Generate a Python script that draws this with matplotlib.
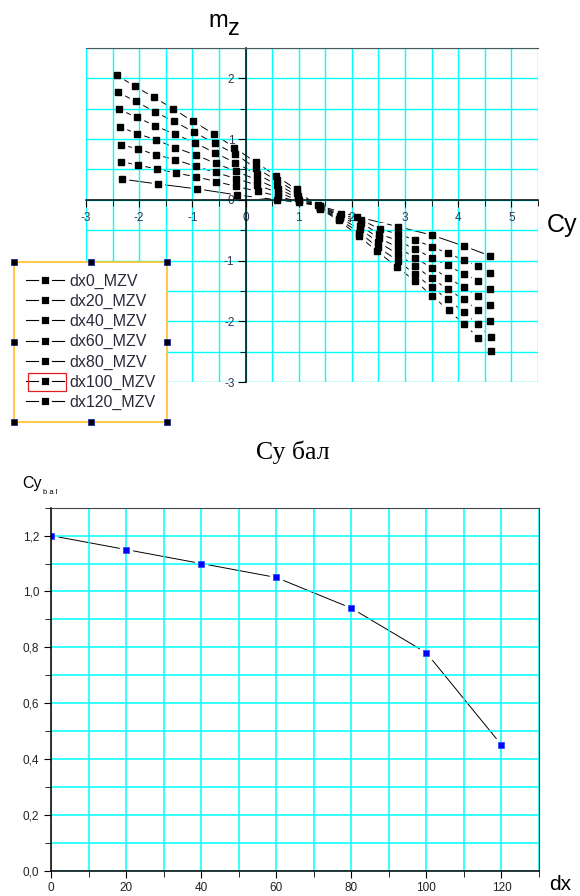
import matplotlib
matplotlib.use('Agg')
import matplotlib.pyplot as plt
from matplotlib.ticker import MultipleLocator, FuncFormatter
from matplotlib.lines import Line2D
from matplotlib.patches import Rectangle

plt.rcParams['font.family'] = ['Liberation Sans', 'DejaVu Sans']
plt.rcParams['axes.unicode_minus'] = False

# --- top chart: mz(Cy) for different CG shifts ---
labels = ['dx0_MZV', 'dx20_MZV', 'dx40_MZV', 'dx60_MZV', 'dx80_MZV', 'dx100_MZV', 'dx120_MZV']

cy_dx0 = [-2.42, -2.08, -1.73, -1.36, -0.99, -0.60, -0.21, 0.19, 0.58, 0.96, 1.40, 1.76, 2.13, 2.48, 2.85, 3.18, 3.51, 3.82, 4.11, 4.38, 4.61]
mz_dx0 = [2.05, 1.87, 1.69, 1.50, 1.29, 1.09, 0.86, 0.62, 0.39, 0.17, -0.15, -0.34, -0.60, -0.85, -1.11, -1.33, -1.58, -1.82, -2.05, -2.27, -2.49]

cy_dx20 = [-2.40, -2.06, -1.71, -1.34, -0.96, -0.58, -0.19, 0.20, 0.59, 0.97, 1.40, 1.76, 2.14, 2.49, 2.86, 3.18, 3.50, 3.81, 4.10, 4.37, 4.61]
mz_dx20 = [1.77, 1.62, 1.45, 1.29, 1.11, 0.93, 0.75, 0.52, 0.32, 0.12, -0.14, -0.32, -0.54, -0.78, -1.00, -1.22, -1.44, -1.64, -1.85, -2.05, -2.26]

cy_dx40 = [-2.38, -2.05, -1.70, -1.33, -0.95, -0.57, -0.19, 0.21, 0.60, 0.98, 1.40, 1.77, 2.15, 2.50, 2.86, 3.18, 3.50, 3.80, 4.10, 4.37, 4.60]
mz_dx40 = [1.49, 1.36, 1.22, 1.08, 0.94, 0.77, 0.61, 0.42, 0.25, 0.07, -0.13, -0.30, -0.48, -0.70, -0.89, -1.09, -1.29, -1.47, -1.64, -1.82, -2.00]

cy_dx60 = [-2.36, -2.04, -1.69, -1.33, -0.94, -0.56, -0.18, 0.21, 0.61, 0.99, 1.40, 1.78, 2.16, 2.51, 2.86, 3.18, 3.50, 3.80, 4.10, 4.37, 4.60]
mz_dx60 = [1.20, 1.09, 0.99, 0.86, 0.74, 0.60, 0.47, 0.33, 0.18, 0.03, -0.12, -0.28, -0.43, -0.63, -0.78, -0.95, -1.12, -1.28, -1.44, -1.59, -1.74]

cy_dx80 = [-2.35, -2.03, -1.68, -1.32, -0.93, -0.56, -0.18, 0.22, 0.62, 1.00, 1.40, 1.78, 2.17, 2.51, 2.86, 3.18, 3.50, 3.80, 4.10, 4.37, 4.60]
mz_dx80 = [0.91, 0.84, 0.74, 0.66, 0.55, 0.45, 0.35, 0.24, 0.12, -0.01, -0.11, -0.26, -0.38, -0.56, -0.67, -0.81, -0.95, -1.08, -1.22, -1.33, -1.47]

cy_dx100 = [-2.34, -2.02, -1.67, -1.31, -0.93, -0.55, -0.17, 0.23, 0.62, 1.01, 1.40, 1.79, 2.18, 2.52, 2.86, 3.18, 3.50, 3.80, 4.10, 4.37, 4.59]
mz_dx100 = [0.63, 0.57, 0.51, 0.44, 0.38, 0.30, 0.22, 0.14, 0.06, -0.04, -0.10, -0.24, -0.33, -0.48, -0.56, -0.66, -0.77, -0.88, -0.99, -1.09, -1.20]

cy_dx120 = [-2.32, -1.64, -0.91, -0.16, 0.60, 1.36, 2.10, 2.86, 3.50, 4.10, 4.59]
mz_dx120 = [0.34, 0.26, 0.18, 0.08, 0.00, -0.09, -0.28, -0.44, -0.58, -0.76, -0.92]

# --- bottom chart: balancing Cy vs dx ---
dx = [0, 20, 40, 60, 80, 100, 120]
cy_bal = [1.20, 1.15, 1.10, 1.05, 0.94, 0.78, 0.45]

series = [(cy_dx0, mz_dx0), (cy_dx20, mz_dx20), (cy_dx40, mz_dx40), (cy_dx60, mz_dx60),
          (cy_dx80, mz_dx80), (cy_dx100, mz_dx100), (cy_dx120, mz_dx120)]

W, H = 580, 896
fig = plt.figure(figsize=(W / 100, H / 100), dpi=100)
tick_col = '#333355'
grid_col = '#00ffff'

ax1 = fig.add_axes([86 / W, 1 - 382 / H, (538 - 86) / W, (382 - 48) / H])
ax1.set_xlim(-3, 5.5)
ax1.set_ylim(-3, 2.5)
ax1.xaxis.set_major_locator(MultipleLocator(1))
ax1.xaxis.set_minor_locator(MultipleLocator(0.5))
ax1.yaxis.set_major_locator(MultipleLocator(1))
ax1.yaxis.set_minor_locator(MultipleLocator(0.5))
ax1.set_axisbelow('line')
ax1.grid(which='both', color=grid_col, lw=1.0)
ax1.spines['left'].set_position(('data', 0))
ax1.spines['bottom'].set_position(('data', 0))
ax1.spines['right'].set_visible(False)
ax1.spines['top'].set_color('#555555')
for s in ['left', 'bottom']:
    ax1.spines[s].set_linewidth(1.1)
ax1.tick_params(axis='x', which='major', direction='out', length=5, labelsize=8.5, labelcolor=tick_col, pad=4)
ax1.tick_params(axis='x', which='minor', direction='out', length=4)
ax1.tick_params(axis='y', which='major', direction='out', length=6, labelsize=8.5, labelcolor=tick_col, pad=2)
ax1.tick_params(axis='y', which='minor', direction='out', length=4)

# lines, then white halos to cut gaps, then the black squares
for cy, mz in series:
    ax1.plot(cy, mz, color='black', lw=0.7, zorder=1.0)
for cy, mz in series:
    ax1.plot(cy, mz, ls='none', marker='s', ms=9, color='white', zorder=1.2)
for cy, mz in series:
    ax1.plot(cy, mz, ls='none', marker='s', ms=4.6, color='black', zorder=2.2)

fig.text(208 / W, 1 - 27 / H, 'm', fontsize=17, va='baseline')
fig.text(228 / W, 1 - 35 / H, 'z', fontsize=17, va='baseline')
fig.text(547 / W, 1 - 232 / H, 'Cy', fontsize=18, va='baseline')

handles = [Line2D([], [], color='black', lw=0.8, marker='s', ms=6.5, mfc='black', mec='white', mew=2.0)
           for _ in labels]
leg = fig.legend(handles, labels, loc='upper left', bbox_to_anchor=(14 / W, 1 - 262 / H),
                 bbox_transform=fig.transFigure, fontsize=11.5, frameon=True, fancybox=False,
                 framealpha=1, edgecolor='#ffc125', labelspacing=0.32, handlelength=2.4,
                 handletextpad=0.35, borderpad=0.72, borderaxespad=0)
leg.get_frame().set_linewidth(1.2)
for t in leg.get_texts():
    t.set_color('#2a2a3a')

# --- bottom chart ---
ax2 = fig.add_axes([51 / W, 1 - 870.5 / H, (539 - 51) / W, (870.5 - 507.7) / H])
ax2.set_xlim(0, 130)
ax2.set_ylim(0, 1.3)
ax2.xaxis.set_major_locator(MultipleLocator(20))
ax2.xaxis.set_minor_locator(MultipleLocator(10))
ax2.yaxis.set_major_locator(MultipleLocator(0.2))
ax2.yaxis.set_minor_locator(MultipleLocator(0.1))
ax2.yaxis.set_major_formatter(FuncFormatter(lambda v, p: f'{v:.1f}'.replace('.', ',')))
ax2.set_axisbelow('line')
ax2.grid(which='both', color=grid_col, lw=1.1)
for s in ['left', 'bottom']:
    ax2.spines[s].set_linewidth(1.1)
for s in ['top', 'right']:
    ax2.spines[s].set_color('#444444')
ax2.tick_params(which='major', direction='out', length=5, labelsize=8.5, labelcolor='#222222')
ax2.tick_params(which='minor', direction='out', length=4)

ax2.plot(dx, cy_bal, color='black', lw=0.7, zorder=1.0)
ax2.plot(dx, cy_bal, ls='none', marker='s', ms=9, color='white', zorder=1.2)
ax2.plot(dx, cy_bal, ls='none', marker='s', ms=5, mfc='#0000ff', mec='#3050ff', mew=0.6, zorder=2.2)

fig.text(293 / W, 1 - 459 / H, 'Су бал', fontsize=18.5, ha='center', va='baseline',
         family=['Liberation Serif', 'DejaVu Serif'])
fig.text(22 / W, 1 - 488 / H, 'Cy', fontsize=11.5, va='baseline')
fig.text(43 / W, 1 - 494 / H, 'b a l', fontsize=5.5, va='baseline')
fig.text(549 / W, 1 - 890 / H, 'dx', fontsize=15, va='baseline')

# selection handles around the legend and the red box on the dx100 sample
fig.canvas.draw()
bb = leg.get_window_extent()
hx = [bb.x0, (bb.x0 + bb.x1) / 2, bb.x1]
hy = [bb.y0, (bb.y0 + bb.y1) / 2, bb.y1]
pts = [(x, y) for x in hx for y in hy if not (x == hx[1] and y == hy[1])]
fig.add_artist(Line2D([p[0] / W for p in pts], [p[1] / H for p in pts], transform=fig.transFigure,
                      ls='none', marker='s', ms=4.5, mfc='black', mec='#1a2a9a', mew=0.6, zorder=10))
tb = leg.get_texts()[5].get_window_extent()
yc = (tb.y0 + tb.y1) / 2
fig.add_artist(Rectangle(((tb.x0 - 41) / W, (yc - 9) / H), 38 / W, 18 / H, transform=fig.transFigure,
                         fill=False, edgecolor='#e02020', lw=0.9, zorder=10))

fig.savefig('out.png', dpi=100)
